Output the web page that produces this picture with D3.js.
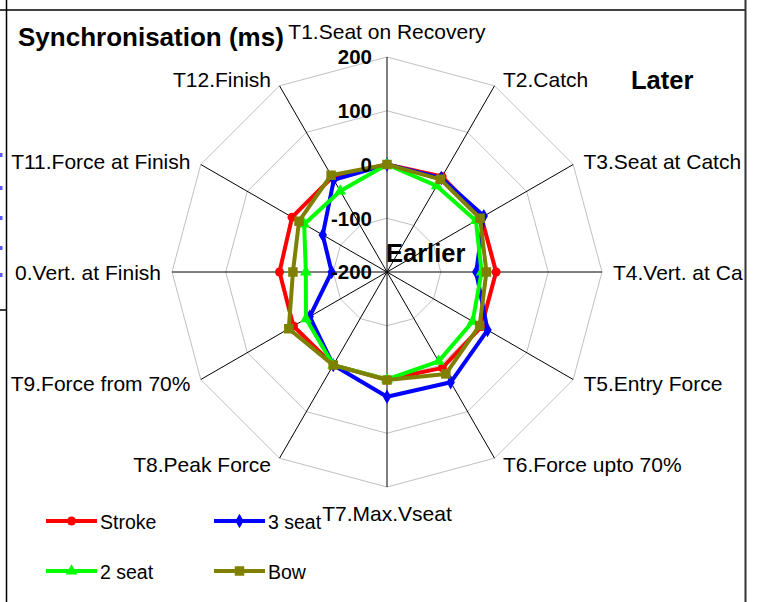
<!DOCTYPE html>
<html>
<head>
<meta charset="utf-8">
<script src="https://cdn.jsdelivr.net/npm/d3@7"></script>
<style>
  html, body { margin: 0; padding: 0; background: #fff; }
  svg { display: block; }
  text { font-family: "Liberation Sans", Arial, sans-serif; }
</style>
</head>
<body>
<svg id="chart" width="758" height="602"></svg>
<script>
// axis categories, clockwise from top
var categories = ["T1.Seat on Recovery", "T2.Catch", "T3.Seat at Catch", "T4.Vert. at Catch",
  "T5.Entry Force", "T6.Force upto 70%", "T7.Max.Vseat", "T8.Peak Force",
  "T9.Force from 70%", "T10.Vert. at Finish", "T11.Force at Finish", "T12.Finish"];
var radialTicks = [-200, -100, 0, 100, 200];
var seriesNames = ["Stroke", "3 seat", "2 seat", "Bow"];
var strokeVals = [0, 5, 3, 3, 3, 6, 0, 0, 1, 0, 4, 4];
var seat3Vals = [0, 2, 8, -34, 16, 37, 32, 0, -34, -97, -62, -2];
var seat2Vals = [0, -15, -9, -24, -16, -8, 0, 0, -26, -49, -22, -26];
var bowVals = [0, -1, 0, -15, -1, 19, 1, 0, 11, -25, -11, 8];

var svg = d3.select("#chart");
var cx = 387, cy = 272, R = 215;
var leftEdge = 7, rightEdge = 744.5;
var rScale = d3.scaleLinear().domain([-200, 200]).range([0, R]);
var angle = d3.scalePoint().domain(d3.range(categories.length)).range([0, 2 * Math.PI * (categories.length - 1) / categories.length]);

var series = [
  {name: seriesNames[0], values: strokeVals, color: "#ff0000", symbol: d3.symbolCircle, size: 64},
  {name: seriesNames[1], values: seat3Vals, color: "#0000ff", symbol: d3.symbolDiamond, size: 60},
  {name: seriesNames[2], values: seat2Vals, color: "#00ff00", symbol: d3.symbolTriangle, size: 60},
  {name: seriesNames[3], values: bowVals, color: "#808000", symbol: d3.symbolSquare, size: 90}
];

function pt(i, v) {
  var a = angle(i), r = rScale(v);
  return [cx + r * Math.sin(a), cy - r * Math.cos(a)];
}

// spreadsheet cell borders behind the chart
svg.append("line").attr("x1", 0).attr("x2", 745).attr("y1", 10).attr("y2", 10).attr("stroke", "#000").attr("stroke-width", 1.5);
svg.append("line").attr("x1", 6.5).attr("x2", 6.5).attr("y1", 0).attr("y2", 602).attr("stroke", "#000").attr("stroke-width", 1.5);
svg.append("line").attr("x1", 0).attr("x2", 6).attr("y1", 310).attr("y2", 310).attr("stroke", "#000").attr("stroke-width", 1.5);
[155, 188, 218, 248, 275].forEach(function(y) {
  svg.append("rect").attr("x", 0).attr("y", y - 2).attr("width", 2.5).attr("height", 4).attr("fill", "#5a5aff");
});

var defs = svg.append("defs");
defs.append("clipPath").attr("id", "area").append("rect")
  .attr("x", leftEdge).attr("y", 11).attr("width", rightEdge - leftEdge).attr("height", 591);
var g = svg.append("g").attr("clip-path", "url(#area)");

// grid rings
var ringLine = d3.line();
radialTicks.slice(1).forEach(function(t) {
  var pts = categories.map(function(c, i) { return pt(i, t); });
  pts.push(pts[0]);
  g.append("path").attr("d", ringLine(pts)).attr("fill", "none").attr("stroke", "#c0c0c0").attr("stroke-width", 1);
});

// spokes
categories.forEach(function(c, i) {
  var e = pt(i, 200);
  g.append("line").attr("x1", cx).attr("y1", cy).attr("x2", e[0]).attr("y2", e[1])
    .attr("stroke", "#000").attr("stroke-width", 1);
});

// category labels; ones running past the plot edge lose whole characters, like the spreadsheet does
categories.forEach(function(c, i) {
  var a = angle(i), e = pt(i, 200);
  var s = Math.sin(a), co = Math.cos(a);
  var anchor = Math.abs(s) < 0.01 ? "middle" : (s > 0 ? "start" : "end");
  var x = e[0], y;
  if (anchor === "middle") {
    y = e[1] - co * 26 + 7.5;
  } else {
    x = e[0] + (s > 0 ? 1 : -1) * (6 + 5 * Math.abs(s));
    y = e[1] - co * 7 + 7.5;
  }
  var t = g.append("text").attr("x", x).attr("y", y).attr("text-anchor", anchor)
    .attr("font-size", 21).attr("fill", "#000").text(c);
  var node = t.node(), bb = node.getBBox(), n = node.getNumberOfChars();
  var lo = null, hi = null, k;
  if (bb.x < leftEdge) {
    for (k = 0; k < n; k++) {
      var sx = node.getStartPositionOfChar(k).x;
      if (sx >= leftEdge) { lo = sx - 0.5; break; }
    }
  }
  if (bb.x + bb.width > rightEdge) {
    for (k = n - 1; k >= 0; k--) {
      var ex = node.getEndPositionOfChar(k).x;
      if (ex <= rightEdge) { hi = ex + 0.5; break; }
    }
  }
  if (lo !== null || hi !== null) {
    var x0 = lo !== null ? lo : bb.x - 1, x1 = hi !== null ? hi : bb.x + bb.width + 1;
    defs.append("clipPath").attr("id", "lab" + i).append("rect")
      .attr("x", x0).attr("y", bb.y - 2).attr("width", x1 - x0).attr("height", bb.height + 4);
    t.attr("clip-path", "url(#lab" + i + ")");
  }
});

// series lines and markers
var line = d3.line();
series.forEach(function(s) {
  var pts = s.values.map(function(v, i) { return pt(i, v); });
  pts.push(pts[0]);
  g.append("path").attr("d", line(pts)).attr("fill", "none")
    .attr("stroke", s.color).attr("stroke-width", 4).attr("stroke-linejoin", "round");
  g.selectAll(null).data(s.values).enter().append("path")
    .attr("d", d3.symbol().type(s.symbol).size(s.size))
    .attr("transform", function(v, i) { var p = pt(i, v); return "translate(" + p[0] + "," + p[1] + ")"; })
    .attr("fill", s.color);
});

// radial tick labels
radialTicks.forEach(function(t) {
  g.append("text").attr("x", cx - 15).attr("y", cy - rScale(t)).attr("dy", "0.36em")
    .attr("text-anchor", "end").attr("font-size", 20.5).attr("font-weight", "bold").text(t);
});

// annotations
g.append("text").attr("x", 18).attr("y", 46).attr("font-size", 26).attr("font-weight", "bold").text("Synchronisation (ms)");
g.append("text").attr("x", 631).attr("y", 89).attr("font-size", 25.5).attr("font-weight", "bold").text("Later");
g.append("text").attr("x", 386).attr("y", 262).attr("font-size", 25.5).attr("font-weight", "bold").text("Earlier");

// legend
var legend = g.append("g");
series.forEach(function(s, i) {
  var lx = 46 + (i % 2) * 168, ly = 521 + Math.floor(i / 2) * 50;
  legend.append("line").attr("x1", lx).attr("x2", lx + 51).attr("y1", ly).attr("y2", ly)
    .attr("stroke", s.color).attr("stroke-width", 4);
  legend.append("path").attr("d", d3.symbol().type(s.symbol).size(s.size))
    .attr("transform", "translate(" + (lx + 25.5) + "," + ly + ")").attr("fill", s.color);
  legend.append("text").attr("x", lx + 54).attr("y", ly + 8).attr("font-size", 19.5).text(s.name);
});

// right border drawn last
svg.append("line").attr("x1", 745.5).attr("x2", 745.5).attr("y1", 0).attr("y2", 602).attr("stroke", "#333").attr("stroke-width", 2);
</script>
</body>
</html>
